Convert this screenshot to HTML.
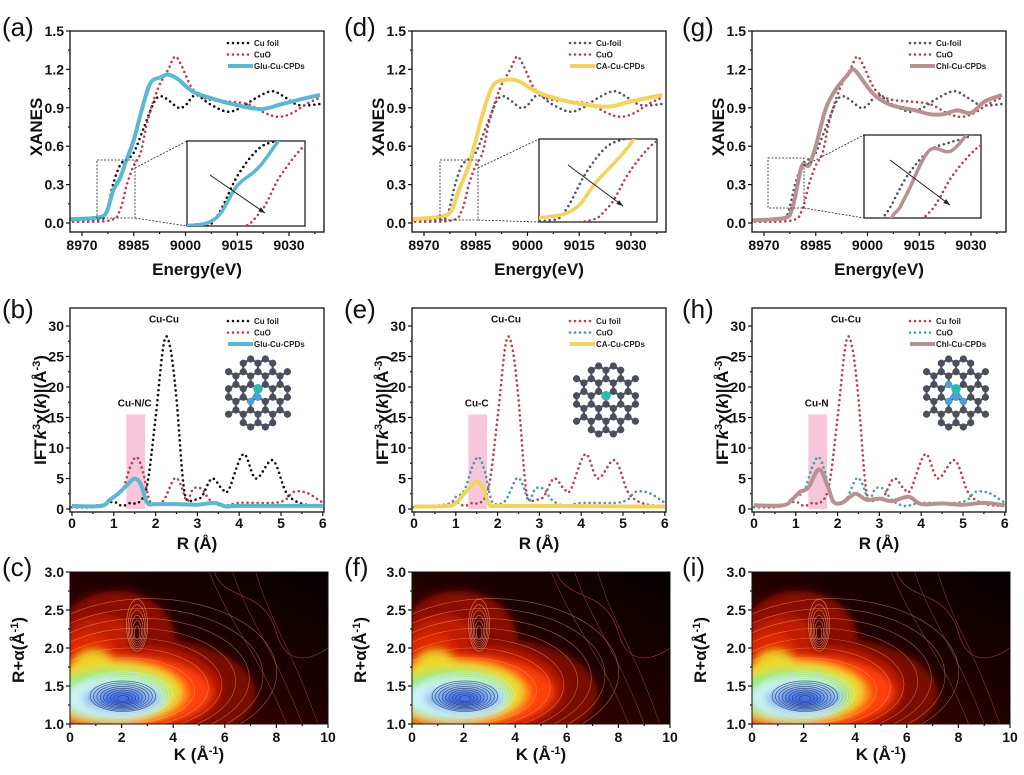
<!DOCTYPE html>
<html><head><meta charset="utf-8"><style>
html,body{margin:0;padding:0;background:#fff;}
svg{display:block;font-family:"Liberation Sans",Arial,sans-serif;}
</style></head><body>
<svg id="s" width="1024" height="775" viewBox="0 0 1024 775" xmlns="http://www.w3.org/2000/svg">
<defs>
<filter id="bl" x="-20%" y="-20%" width="140%" height="140%"><feGaussianBlur stdDeviation="4"/></filter>
</defs>
<g font-size="26" fill="#111">
<text x="2" y="36">(a)</text><text x="344" y="36">(d)</text><text x="682" y="36">(g)</text>
<text x="2" y="318">(b)</text><text x="344" y="318">(e)</text><text x="682" y="318">(h)</text>
<text x="2" y="576">(c)</text><text x="344" y="576">(f)</text><text x="682" y="576">(i)</text>
</g>
<g font-weight="bold" font-size="17" fill="#111" text-anchor="middle">
<text x="197" y="275">Energy(eV)</text><text x="539" y="275">Energy(eV)</text><text x="879" y="275">Energy(eV)</text>
<text transform="translate(42,127) rotate(-90)">XANES</text>
<text transform="translate(384,127) rotate(-90)">XANES</text>
<text transform="translate(724,127) rotate(-90)">XANES</text>
<text x="197" y="549">R (Å)</text><text x="539" y="549">R (Å)</text><text x="879" y="549">R (Å)</text>
<text transform="translate(46,410) rotate(-90)">IFT<tspan font-style="italic">k</tspan><tspan font-size="11" dy="-6">3</tspan><tspan dy="6">χ(</tspan><tspan font-style="italic">k</tspan>)|(Å<tspan font-size="11" dy="-6">-3</tspan><tspan dy="6">)</tspan></text>
<text transform="translate(388,410) rotate(-90)">IFT<tspan font-style="italic">k</tspan><tspan font-size="11" dy="-6">3</tspan><tspan dy="6">χ(</tspan><tspan font-style="italic">k</tspan>)|(Å<tspan font-size="11" dy="-6">-3</tspan><tspan dy="6">)</tspan></text>
<text transform="translate(728,410) rotate(-90)">IFT<tspan font-style="italic">k</tspan><tspan font-size="11" dy="-6">3</tspan><tspan dy="6">χ(</tspan><tspan font-style="italic">k</tspan>)|(Å<tspan font-size="11" dy="-6">-3</tspan><tspan dy="6">)</tspan></text>
<text x="199" y="760">K (Å<tspan font-size="11" dy="-6">-1</tspan><tspan dy="6">)</tspan></text>
<text x="541" y="760">K (Å<tspan font-size="11" dy="-6">-1</tspan><tspan dy="6">)</tspan></text>
<text x="881" y="760">K (Å<tspan font-size="11" dy="-6">-1</tspan><tspan dy="6">)</tspan></text>
<text transform="translate(24,650) rotate(-90)">R+α(Å<tspan font-size="11" dy="-6">-1</tspan><tspan dy="6">)</tspan></text>
<text transform="translate(366,650) rotate(-90)">R+α(Å<tspan font-size="11" dy="-6">-1</tspan><tspan dy="6">)</tspan></text>
<text transform="translate(706,650) rotate(-90)">R+α(Å<tspan font-size="11" dy="-6">-1</tspan><tspan dy="6">)</tspan></text>
</g>
<g id="dyn"></g>
</svg>
<script>
const NS='http://www.w3.org/2000/svg';
const root=document.getElementById('dyn');
let cid=0;
function el(t,a,p,txt){const e=document.createElementNS(NS,t);for(const k in a)e.setAttribute(k,a[k]);(p||root).appendChild(e);if(txt!=null)e.textContent=txt;return e;}
function smooth(P){if(P.length<2)return'';let d='M'+P[0][0].toFixed(1)+','+P[0][1].toFixed(1);for(let i=0;i<P.length-1;i++){const p0=P[i-1]||P[i],p1=P[i],p2=P[i+1],p3=P[i+2]||p2;const c1=[p1[0]+(p2[0]-p0[0])/6,p1[1]+(p2[1]-p0[1])/6],c2=[p2[0]-(p3[0]-p1[0])/6,p2[1]-(p3[1]-p1[1])/6];d+='C'+c1[0].toFixed(1)+','+c1[1].toFixed(1)+' '+c2[0].toFixed(1)+','+c2[1].toFixed(1)+' '+p2[0].toFixed(1)+','+p2[1].toFixed(1);}return d;}
function clip(x,y,w,h){const id='c'+(cid++);const c=el('clipPath',{id:id});el('rect',{x:x,y:y,width:w,height:h},c);return 'url(#'+id+')';}
function stroke(style){if(style.dot)return{fill:'none',stroke:style.c,'stroke-width':style.w||2.6,'stroke-dasharray':'0 5','stroke-linecap':'round'};return{fill:'none',stroke:style.c,'stroke-width':style.w||4,'stroke-linejoin':'round'};}
function legend(x,y,items){items.forEach((it,i)=>{const yy=y+i*11.5;const s=stroke(it);el('line',Object.assign({x1:x,y1:yy,x2:x+25,y2:yy},s));el('text',{x:x+26,y:yy+3,'font-size':8,'font-weight':'bold',fill:'#222'},null,it.n);});}
function axes(L,T,R,B){el('rect',{x:L,y:T,width:R-L,height:B-T,fill:'none',stroke:'#111','stroke-width':1.3});}

const foil=[[8966,0.02],[8975,0.03],[8977,0.08],[8979,0.3],[8981,0.45],[8983,0.5],[8985,0.55],[8988,0.75],[8991,0.95],[8993,0.99],[8995,0.96],[8998,0.9],[9000,0.92],[9003,1.0],[9007,0.93],[9012,0.87],[9016,0.9],[9020,0.97],[9025,1.03],[9029,0.98],[9033,0.92],[9039,0.93]];
const cuo=[[8966,0.01],[8978,0.02],[8981,0.1],[8983,0.3],[8985,0.45],[8987,0.55],[8989,0.8],[8992,1.05],[8995,1.2],[8997,1.3],[8999,1.22],[9002,1.05],[9006,0.97],[9012,0.95],[9018,0.93],[9023,0.86],[9027,0.83],[9031,0.86],[9035,0.93],[9039,0.98]];
const glu=[[8966,0.03],[8974,0.04],[8977,0.08],[8979,0.25],[8981,0.35],[8983,0.5],[8985,0.65],[8988,0.95],[8990,1.1],[8993,1.14],[8995,1.16],[8998,1.12],[9002,1.03],[9008,0.97],[9015,0.92],[9022,0.89],[9028,0.93],[9034,0.97],[9039,1.0]];
const ca=[[8966,0.03],[8975,0.05],[8978,0.1],[8980,0.25],[8983,0.45],[8985,0.65],[8987,0.85],[8989,1.02],[8991,1.1],[8995,1.12],[8998,1.1],[9003,1.02],[9010,0.96],[9018,0.92],[9024,0.91],[9030,0.95],[9039,1.0]];
const chl=[[8966,0.02],[8976,0.04],[8978,0.1],[8979,0.2],[8981,0.45],[8983,0.45],[8985,0.6],[8988,0.9],[8991,1.05],[8994,1.15],[8996,1.2],[8999,1.1],[9002,1.0],[9006,0.93],[9010,0.9],[9014,0.88],[9018,0.85],[9022,0.85],[9026,0.88],[9030,0.86],[9034,0.95],[9039,1.0]];

function xanes(ox,series,leg,box,ins,arrow,src){
 const L=ox,R=ox+254,T=31,B=232;
 const X=e=>ox+12+(e-8970)*3.45,Y=v=>223-v*128;
 const cp=clip(L,T,R-L,B-T);const g=el('g',{'clip-path':cp});
 const paths=[];
 series.forEach(s=>{const d=smooth(s.d.map(p=>[X(p[0]),Y(p[1])]));paths.push(d);el('path',Object.assign({d:d},stroke(s)),g);});
 for(let v=0;v<=1.5001;v+=0.15){const y=Y(v);const major=Math.round(v*100)%30==0;el('line',{x1:L,y1:y,x2:L-(major?4:2),y2:y,stroke:'#111','stroke-width':1.2});if(major)el('text',{x:L-6,y:y+5,'font-size':14,'font-weight':'bold','text-anchor':'end',fill:'#111'},null,v.toFixed(1));}
 for(let e=8970;e<=9039;e+=7.5){const x=X(e);const major=(e-8970)%15==0;el('line',{x1:x,y1:B,x2:x,y2:B+(major?4:2),stroke:'#111','stroke-width':1.2});if(major)el('text',{x:x,y:B+18,'font-size':14,'font-weight':'bold','text-anchor':'middle',fill:'#111'},null,String(e));}
 axes(L,T,R,B);
 legend(ox+158,43,leg);
 const [bx0,by0,bw0,bh0]=box,[ix,iy,iw,ih]=ins;
 el('rect',{x:bx0,y:by0,width:bw0,height:bh0,fill:'none',stroke:'#222','stroke-width':0.8,'stroke-dasharray':'2 1.5'});
 el('line',{x1:bx0+bw0,y1:by0+8,x2:ix,y2:iy,stroke:'#222','stroke-width':0.8,'stroke-dasharray':'2 1.5'});
 el('line',{x1:bx0+bw0,y1:by0+bh0,x2:ix,y2:iy+ih,stroke:'#222','stroke-width':0.8,'stroke-dasharray':'2 1.5'});
 el('rect',{x:ix,y:iy,width:iw,height:ih,fill:'#fff',stroke:'#111','stroke-width':1.2});
 const [bx,by,bw,bh]=src||box;
 const cp2=clip(ix,iy,iw,ih);const g2=el('g',{'clip-path':cp2});
 const sx=iw/bw,sy=ih/bh;
 series.forEach((s,si)=>{
  const tmp=el('path',{d:paths[si],fill:'none',stroke:'none'});const len=tmp.getTotalLength();const P=[];
  for(let l=0;l<=len;l+=1){const pt=tmp.getPointAtLength(l);if(pt.x>bx-8&&pt.x<bx+bw+8&&pt.y>by-8&&pt.y<by+bh+8)P.push([ix+(pt.x-bx)*sx,iy+(pt.y-by)*sy]);}
  tmp.remove();
  if(P.length<2)return;
  let d='M'+P.map(p=>p[0].toFixed(1)+','+p[1].toFixed(1)).join(' L');
  const st=stroke(s);if(s.dot){st['stroke-width']=2.6;}else st['stroke-width']=3.5;
  el('path',Object.assign({d:d},st),g2);});
 el('line',{x1:arrow[0],y1:arrow[1],x2:arrow[2],y2:arrow[3],stroke:'#222','stroke-width':1});
 const ang=Math.atan2(arrow[3]-arrow[1],arrow[2]-arrow[0]);
 const hx=arrow[2],hy=arrow[3];
 el('path',{d:`M${hx},${hy} L${hx-7*Math.cos(ang-0.35)},${hy-7*Math.sin(ang-0.35)} L${hx-7*Math.cos(ang+0.35)},${hy-7*Math.sin(ang+0.35)}Z`,fill:'#222'});
}
const RED='#b8404c',BLK='#111',GRY='#4e5468';
xanes(70,[{d:foil,dot:1,c:BLK},{d:cuo,dot:1,c:RED},{d:glu,c:'#5bb8d0'}],[{n:'Cu foil',dot:1,c:BLK},{n:'CuO',dot:1,c:RED},{n:'Glu-Cu-CPDs',c:'#5bb8d0'}],[97,160,38,58],[187,141,118,85],[210,175,265,213]);
xanes(412,[{d:foil,dot:1,c:GRY},{d:cuo,dot:1,c:RED},{d:ca,c:'#f2d35e'}],[{n:'Cu-foil',dot:1,c:GRY},{n:'CuO',dot:1,c:RED},{n:'CA-Cu-CPDs',c:'#f2d35e'}],[440,160,38,60],[539,139,118,83],[568,165,623,206]);
xanes(752,[{d:foil,dot:1,c:GRY},{d:cuo,dot:1,c:RED},{d:chl,c:'#b89292'}],[{n:'Cu-foil',dot:1,c:GRY},{n:'CuO',dot:1,c:RED},{n:'Chl-Cu-CPDs',c:'#b89292'}],[768,158,36,50],[864,135,117,83],[890,160,950,205],[782,154,36,60]);

const rfoil=[[0,0.3],[0.5,0.3],[0.8,0.8],[1,1.2],[1.2,0.5],[1.4,1],[1.6,1.1],[1.8,4],[2,15],[2.2,27.3],[2.35,26.5],[2.5,18],[2.65,5],[2.75,1.5],[2.9,1.5],[3.1,2],[3.35,5],[3.6,3.2],[3.75,3.2],[4.1,9],[4.4,5],[4.8,8],[5.1,3],[5.3,1.5],[5.6,0.7],[6,0.5]];
const rcuo=[[0,0.3],[0.8,0.8],[1,2],[1.2,3],[1.4,7],[1.55,8.5],[1.7,6],[1.85,1.5],[2.0,0.8],[2.2,1.5],[2.45,5],[2.6,4],[2.75,1.3],[2.9,3.3],[3.1,3.3],[3.3,1.5],[3.6,0.5],[4,1],[4.8,1],[5.1,1.5],[5.3,2.8],[5.6,2.7],[5.9,1.5],[6,1]];
const rglu=[[0,0.5],[0.7,0.5],[0.9,1.5],[1.1,2.5],[1.3,3.8],[1.5,5],[1.65,4],[1.8,1],[2,0.8],[2.5,0.8],[3,0.7],[3.4,1],[3.7,0.4],[4,0.5],[6,0.5]];
const rca=[[0,0.4],[0.8,0.5],[1.0,1],[1.2,2.5],[1.4,4],[1.5,4.5],[1.65,3.5],[1.8,0.8],[2,0.5],[3,0.5],[6,0.4]];
const rchl=[[0,0.6],[0.7,0.6],[0.9,1.5],[1.1,2.8],[1.3,3.5],[1.55,6.5],[1.75,4],[1.9,1.2],[2.1,1],[2.3,2],[2.45,2.5],[2.7,1.5],[3,1.7],[3.3,1.3],[3.7,2],[4,0.8],[4.5,0.9],[5,0.7],[5.5,1],[6,0.6]];

function molecule(cx,cy,nN){
 const a=8.5,pts=[];const g=el('g',{});
 for(let i=-6;i<=6;i++)for(let j=-6;j<=6;j++){const bx=cx+i*a*Math.sqrt(3)+j*a*Math.sqrt(3)/2,by=cy+j*a*1.5;[[0,-a/2],[0,a/2]].forEach(b=>{const x=bx+b[0],y=by+b[1];const dx=Math.abs(x-cx),dy=Math.abs(y-cy);if(dx<33&&dy<36&&dx*0.5+dy<40)pts.push([x,y]);});}
 for(let i=0;i<pts.length;i++)for(let k=i+1;k<pts.length;k++){const d=Math.hypot(pts[i][0]-pts[k][0],pts[i][1]-pts[k][1]);if(d<a*1.05)el('line',{x1:pts[i][0],y1:pts[i][1],x2:pts[k][0],y2:pts[k][1],stroke:'#555a66','stroke-width':2.2},g);}
 const near=pts.map(p=>[p,Math.hypot(p[0]-cx,p[1]-cy)]).sort((u,v)=>u[1]-v[1]);
 const cu=near[0][0];
 pts.forEach(p=>el('circle',{cx:p[0],cy:p[1],r:3.6,fill:'#4a4f5c'},g));
 for(let i=1;i<=nN;i++){const p=near[i][0];el('line',{x1:cu[0],y1:cu[1],x2:p[0],y2:p[1],stroke:'#3a9ad0','stroke-width':2},g);el('circle',{cx:p[0],cy:p[1],r:3.6,fill:'#4aa0d8'},g);}
 el('circle',{cx:cu[0],cy:cu[1],r:4.8,fill:'#30b8b0'},g);
}

function exafs(ox,series,leg,lab,mol){
 const L=ox,R=ox+254,T=308,B=512;
 const X=r=>ox+2+r*41.8,Y=v=>509-v*6.1;
 el('rect',{x:X(1.3),y:Y(15.5),width:X(1.75)-X(1.3),height:Y(0)-Y(15.5),fill:'#f6c6da'});
 const cp=clip(L,T,R-L,B-T);const g=el('g',{'clip-path':cp});
 series.forEach(s=>{el('path',Object.assign({d:smooth(s.d.map(p=>[X(p[0]),Y(p[1])]))},stroke(s)),g);});
 for(let v=0;v<=32;v+=2.5){const y=Y(v);const major=v%5==0;el('line',{x1:L,y1:y,x2:L-(major?4:2),y2:y,stroke:'#111','stroke-width':1.2});if(major)el('text',{x:L-6,y:y+5,'font-size':14,'font-weight':'bold','text-anchor':'end',fill:'#111'},null,String(v));}
 for(let r=0;r<=6;r+=0.5){const x=X(r);const major=r%1==0;el('line',{x1:x,y1:B,x2:x,y2:B+(major?4:2),stroke:'#111','stroke-width':1.2});if(major)el('text',{x:x,y:B+16,'font-size':14,'font-weight':'bold','text-anchor':'middle',fill:'#111'},null,String(r));}
 axes(L,T,R,B);
 legend(ox+158,321,leg);
 el('text',{x:X(2.2),y:Y(30.6),'font-size':10,'font-weight':'bold','text-anchor':'middle',fill:'#111'},null,'Cu-Cu');
 el('text',{x:X(1.5),y:Y(16.8),'font-size':10,'font-weight':'bold','text-anchor':'middle',fill:'#111'},null,lab);
 molecule(mol[0],mol[1],mol[2]);
}
exafs(70,[{d:rfoil,dot:1,c:BLK},{d:rcuo,dot:1,c:RED},{d:rglu,c:'#5bb8d0'}],[{n:'Cu foil',dot:1,c:BLK},{n:'CuO',dot:1,c:RED},{n:'Glu-Cu-CPDs',c:'#5bb8d0'}],'Cu-N/C',[258,393,2]);
exafs(412,[{d:rfoil,dot:1,c:RED},{d:rcuo,dot:1,c:'#4a92b4'},{d:rca,c:'#f2d35e'}],[{n:'Cu foil',dot:1,c:RED},{n:'CuO',dot:1,c:'#4a92b4'},{n:'CA-Cu-CPDs',c:'#f2d35e'}],'Cu-C',[606,400,0]);
exafs(752,[{d:rfoil,dot:1,c:RED},{d:rcuo,dot:1,c:'#3fa2a8'},{d:rchl,c:'#b89292'}],[{n:'Cu foil',dot:1,c:RED},{n:'CuO',dot:1,c:'#3fa2a8'},{n:'Chl-Cu-CPDs',c:'#b89292'}],'Cu-N',[956,393,4]);

function contour(ox,small){
 const L=ox,R=ox+258,T=572,B=724;
 const X=k=>ox+k*25.8,Y=v=>724-(v-1)*76;
 const cp=clip(L,T,R-L,B-T);const g=el('g',{'clip-path':cp});
 const gid='lg'+(cid++);const lg=el('linearGradient',{id:gid,x1:0,y1:1,x2:1,y2:0});
 el('stop',{offset:0,'stop-color':'#5a0300'},lg);el('stop',{offset:0.5,'stop-color':'#220000'},lg);el('stop',{offset:1,'stop-color':'#040000'},lg);
 el('rect',{x:L,y:T,width:R-L,height:B-T,fill:`url(#${gid})`},g);
 const gb=el('g',{filter:'url(#bl)'},g);
 const E=(k,v,rx,ry,f)=>el('ellipse',{cx:X(k),cy:Y(v),rx:rx*25.8,ry:ry*76,fill:f},gb);
 E(1.8,2.1,2.3,0.65,'#8a0c00');
 E(2.6,1.4,4.6,0.75,'#7a0a00');
 E(2.0,1.45,3.9,0.62,'#b81600');
 E(1.2,2.0,1.5,0.42,'#c01a00');
 E(0.8,1.85,1.0,0.34,'#e02a00');
 E(2.0,1.42,3.5,0.48,'#ff4010');
 E(1.6,1.4,3.0,0.42,'#ff8a18');
 E(0.9,1.68,0.85,0.28,'#f0d028');
 E(1.7,1.42,2.6,0.4,'#e8e030');
 E(1.6,1.38,2.25,0.34,'#98e870');
 E(1.7,1.34,small?1.8:1.95,0.27,'#c8f4f4');
 E(2.0,1.33,1.5,0.19,'#8ab4f0');
 E(2.0,1.33,0.85,0.11,'#3a6ee8');
 E(2.6,2.2,0.3,0.25,'#3a0000');
 E(4.7,2.9,0.3,0.25,'#150000');
 const gl=el('g',{fill:'none'},g);
 for(let i=1;i<=14;i++){const rx=(0.1+i*0.13)*25.8,ry=(0.02+i*0.02)*76;el('ellipse',{cx:X(2.05),cy:Y(1.33+i*0.004),rx:rx,ry:ry,stroke:i<10?'#1c2a5a':'#d8f0f0','stroke-width':0.6,opacity:0.75},gl);}
 for(let i=0;i<8;i++){const rx=(2.3+i*0.38)*25.8,ry=(0.34+i*0.09)*76;el('ellipse',{cx:X(2.0+i*0.15),cy:Y(1.4+i*0.04),rx:rx,ry:ry,stroke:'#ffc070','stroke-width':0.6,opacity:0.5},gl);}
 for(let i=1;i<=6;i++){el('ellipse',{cx:X(2.6),cy:Y(2.18+i*0.02),rx:(0.05+i*0.06)*25.8,ry:(0.04+i*0.05)*76,stroke:'#ffb090','stroke-width':0.6,opacity:0.7},gl);}
 for(let i=0;i<3;i++){el('path',{d:`M${X(5.4+i*0.9)},${Y(3)} C${X(6.2+i*0.8)},${Y(2.3)} ${X(7.2+i*0.7)},${Y(2)} ${X(8.4+i*0.6)},${Y(1)}`,stroke:'#c06040','stroke-width':0.6,opacity:0.6},gl);}
 el('path',{d:`M${X(5.6)},${Y(3)} C${X(6)},${Y(2.6)} ${X(7.5)},${Y(2.8)} ${X(8)},${Y(2.2)} S${X(10)},${Y(2)} ${X(10)},${Y(2)}`,stroke:'#a04030','stroke-width':0.6},gl);
 for(let v=1;v<=3.001;v+=0.25){const y=Y(v);const major=Math.round(v*100)%50==0;el('line',{x1:L,y1:y,x2:L-(major?4:2),y2:y,stroke:'#111','stroke-width':1.2});if(major)el('text',{x:L-6,y:y+5,'font-size':14,'font-weight':'bold','text-anchor':'end',fill:'#111'},null,v.toFixed(1));}
 for(let k=0;k<=10;k+=1){const x=X(k);const major=k%2==0;el('line',{x1:x,y1:B,x2:x,y2:B+(major?4:2),stroke:'#111','stroke-width':1.2});if(major)el('text',{x:x,y:B+18,'font-size':14,'font-weight':'bold','text-anchor':'middle',fill:'#111'},null,String(k));}
 el('rect',{x:L,y:T,width:R-L,height:B-T,fill:'none',stroke:'#111','stroke-width':1});
}
contour(70,0);contour(412,0);contour(752,1);
</script>
</body></html>
